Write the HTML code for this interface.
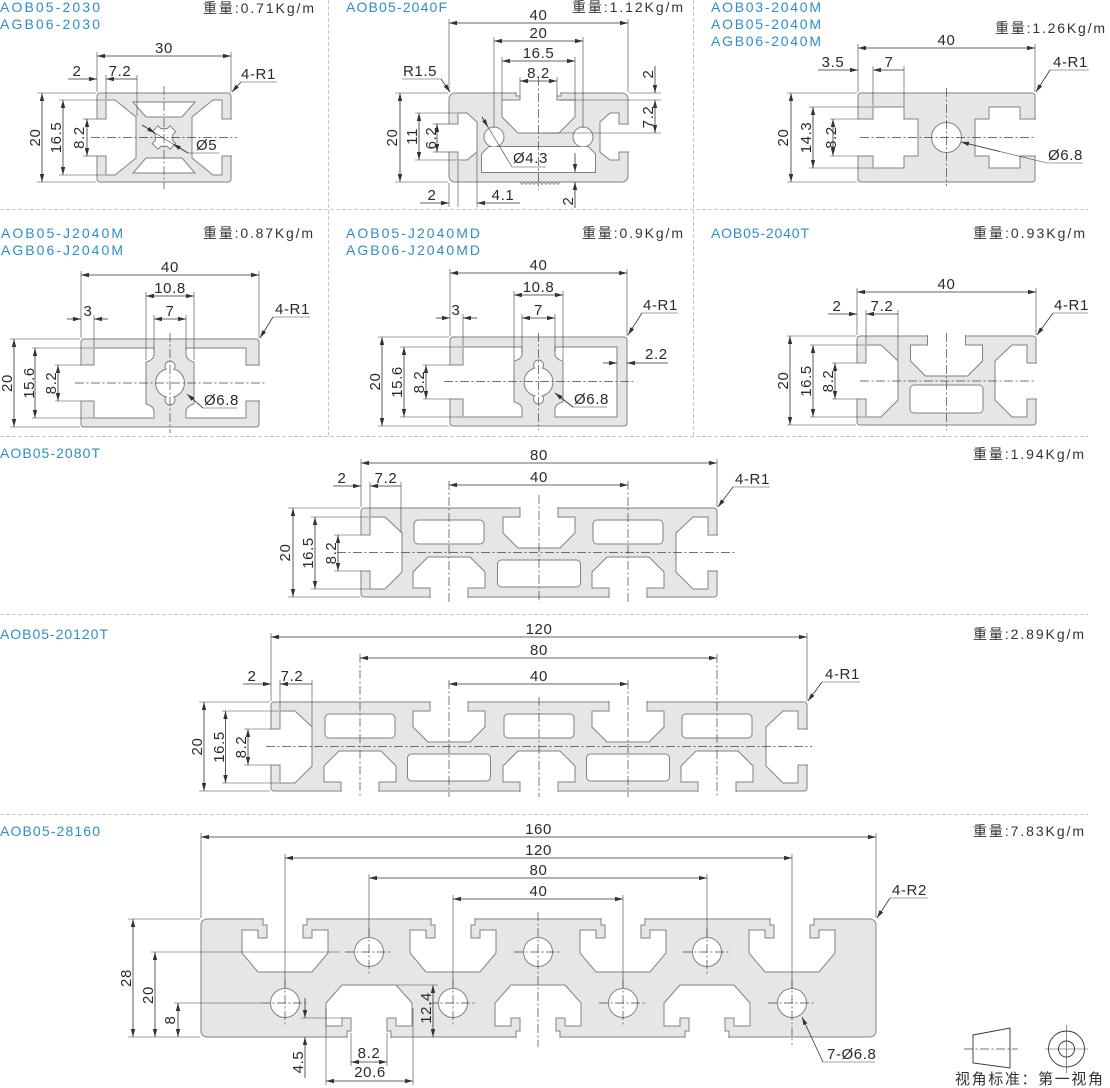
<!DOCTYPE html>
<html><head><meta charset="utf-8"><title>profiles</title>
<style>
html,body{margin:0;padding:0;background:#fff;width:1110px;height:1088px;overflow:hidden}
svg{display:block}
.p{fill:#e6e6e6;stroke:#828282;stroke-width:1}
.h{fill:#fff;stroke:#828282;stroke-width:1}
.h2{fill:#fff;stroke:#828282;stroke-width:2}
.f{fill:#fff;stroke:none}
.d{stroke:#333;stroke-width:.8;marker-start:url(#m);marker-end:url(#m)}
.a{stroke:#333;stroke-width:.8;marker-end:url(#m)}
.e{stroke:#444;stroke-width:.6;fill:none}
.k{stroke:#444;stroke-width:.7;stroke-dasharray:9 2.5 2 2.5;fill:none}
.s{stroke:#c6c6c6;stroke-width:1;stroke-dasharray:4 2;fill:none}
text{font-family:"Liberation Sans","Noto Sans CJK SC",sans-serif;font-size:15px;fill:#2a2a2a;letter-spacing:.6px}
.m{text-anchor:middle}
.b{fill:#2e8dcb;font-size:14px;letter-spacing:0}
.w{fill:#333;font-size:14px;letter-spacing:0;text-anchor:end}
</style></head><body>
<svg width="1110" height="1088" viewBox="0 0 1110 1088" xmlns="http://www.w3.org/2000/svg">
<defs>
<marker id="m" viewBox="0 0 8 4.4" refX="8" refY="2.2" markerWidth="8" markerHeight="4.4" markerUnits="userSpaceOnUse" orient="auto-start-reverse"><path d="M0,0L8,2.2L0,4.4z" fill="#333"/></marker>
<path id="ts" d="M-19,-1 L-19,9 L-36,9 L-36,25 L-21,40 L21,40 L36,25 L36,9 L19,9 L19,-1"/>
<path id="bs" d="M-19,90 L-19,80 L-36,80 L-36,64 L-21,49 L21,49 L36,64 L36,80 L19,80 L19,90"/>
<path id="le" d="M-1,27 L9,27 L9,9 L24,9 L41,25 L41,64 L24,81 L9,81 L9,63 L-1,63"/>
<path id="re" d="M1,27 L-9,27 L-9,9 L-24,9 L-41,25 L-41,64 L-24,81 L-9,81 L-9,63 L1,63"/>
<path id="t8" d="M-22,-1 L-22,6 L-18,6 L-18,19 L-27,19 L-27,11 L-43,11 L-43,34 L-27,53 L27,53 L43,34 L43,11 L27,11 L27,19 L18,19 L18,6 L22,6 L22,-1"/>
<path id="b8" d="M-22,119 L-22,112 L-18,112 L-18,99 L-27,99 L-27,107 L-43,107 L-43,84 L-27,66 L27,66 L43,84 L43,107 L27,107 L27,99 L18,99 L18,112 L22,112 L22,119"/>
</defs>

<!-- separators -->
<line class="s" x1="0" y1="209.5" x2="1088" y2="209.5"/>
<line class="s" x1="0" y1="436.5" x2="1088" y2="436.5"/>
<line class="s" x1="0" y1="614.5" x2="1088" y2="614.5"/>
<line class="s" x1="0" y1="814.5" x2="1088" y2="814.5"/>
<line class="s" x1="328.5" y1="0" x2="328.5" y2="436"/>
<line class="s" x1="693.5" y1="0" x2="693.5" y2="436"/>

<!-- labels -->
<text class="b" x="0" y="12" textLength="100" lengthAdjust="spacing">AOB05-2030</text>
<text class="b" x="0" y="29" textLength="100" lengthAdjust="spacing">AGB06-2030</text>
<text class="b" x="346" y="12" textLength="101" lengthAdjust="spacing">AOB05-2040F</text>
<text class="b" x="711" y="12" textLength="110" lengthAdjust="spacing">AOB03-2040M</text>
<text class="b" x="711" y="29" textLength="110" lengthAdjust="spacing">AOB05-2040M</text>
<text class="b" x="711" y="46" textLength="110" lengthAdjust="spacing">AGB06-2040M</text>
<text class="w" x="314" y="13" textLength="111" lengthAdjust="spacing">重量:0.71Kg/m</text>
<text class="w" x="683" y="12" textLength="111" lengthAdjust="spacing">重量:1.12Kg/m</text>
<text class="w" x="1105" y="33" textLength="110" lengthAdjust="spacing">重量:1.26Kg/m</text>
<text class="b" x="1" y="238" textLength="122" lengthAdjust="spacing">AOB05-J2040M</text>
<text class="b" x="1" y="255" textLength="122" lengthAdjust="spacing">AGB06-J2040M</text>
<text class="b" x="346" y="238" textLength="134" lengthAdjust="spacing">AOB05-J2040MD</text>
<text class="b" x="346" y="255" textLength="134" lengthAdjust="spacing">AGB06-J2040MD</text>
<text class="b" x="711" y="238" textLength="98" lengthAdjust="spacing">AOB05-2040T</text>
<text class="w" x="313" y="238" textLength="110" lengthAdjust="spacing">重量:0.87Kg/m</text>
<text class="w" x="683" y="238" textLength="101" lengthAdjust="spacing">重量:0.9Kg/m</text>
<text class="w" x="1085" y="238" textLength="112" lengthAdjust="spacing">重量:0.93Kg/m</text>
<text class="b" x="0" y="458" textLength="100" lengthAdjust="spacing">AOB05-2080T</text>
<text class="w" x="1084" y="459" textLength="111" lengthAdjust="spacing">重量:1.94Kg/m</text>
<text class="b" x="0" y="639" textLength="108" lengthAdjust="spacing">AOB05-20120T</text>
<text class="w" x="1084" y="639" textLength="111" lengthAdjust="spacing">重量:2.89Kg/m</text>
<text class="b" x="0" y="836" textLength="100" lengthAdjust="spacing">AOB05-28160</text>
<text class="w" x="1084" y="836" textLength="111" lengthAdjust="spacing">重量:7.83Kg/m</text>

<!-- ===== 2030 ===== -->
<rect class="p" x="97" y="93" width="134" height="89" rx="3"/>
<path class="h" d="M96,119 L106,119 L106,100 L115,100 L136,117 L136,158 L115,175 L106,175 L106,156 L96,156"/>
<path class="h" d="M232,119 L222,119 L222,100 L213,100 L192,117 L192,158 L213,175 L222,175 L222,156 L232,156"/>
<path class="h" d="M133,102 L195,102 L182,117 L146,117 Z"/>
<path class="h" d="M133,173 L195,173 L182,158 L146,158 Z"/>
<g class="h2"><circle cx="164" cy="137.5" r="8.5"/><g transform="rotate(45 164 137.5)"><rect x="160.5" y="125.5" width="7" height="24"/><rect x="152" y="134" width="24" height="7"/></g></g>
<g class="f"><circle cx="164" cy="137.5" r="8.5"/><g transform="rotate(45 164 137.5)"><rect x="160.5" y="125.5" width="7" height="24"/><rect x="152" y="134" width="24" height="7"/></g></g>
<line class="k" x1="91" y1="137.5" x2="237" y2="137.5"/>
<line class="k" x1="164" y1="86" x2="164" y2="189"/>
<line class="e" x1="97" y1="52" x2="97" y2="92"/>
<line class="e" x1="231" y1="52" x2="231" y2="92"/>
<line class="d" x1="97" y1="56" x2="231" y2="56"/>
<text class="m" x="164" y="53">30</text>
<line class="e" x1="106" y1="75" x2="106" y2="99"/>
<line class="e" x1="137" y1="75" x2="137" y2="116"/>
<line class="a" x1="68" y1="79" x2="97" y2="79"/>
<line class="a" x1="137" y1="79" x2="106" y2="79"/>
<text class="m" x="77" y="76">2</text>
<text class="m" x="120" y="76">7.2</text>
<line class="e" x1="241" y1="82" x2="277" y2="82"/>
<line class="a" x1="241" y1="82" x2="232" y2="92"/>
<text x="241" y="79">4-R1</text>
<line class="e" x1="37" y1="93" x2="96" y2="93"/>
<line class="e" x1="37" y1="182" x2="96" y2="182"/>
<line class="d" x1="42" y1="93" x2="42" y2="182"/>
<text class="m" transform="translate(40,137.5) rotate(-90)">20</text>
<line class="e" x1="59" y1="100" x2="105" y2="100"/>
<line class="e" x1="59" y1="175" x2="105" y2="175"/>
<line class="d" x1="63" y1="100" x2="63" y2="175"/>
<text class="m" transform="translate(61,137.5) rotate(-90)">16.5</text>
<line class="e" x1="83" y1="119" x2="96" y2="119"/>
<line class="e" x1="83" y1="156" x2="96" y2="156"/>
<line class="d" x1="87" y1="119" x2="87" y2="156"/>
<text class="m" transform="translate(84,137.5) rotate(-90)">8.2</text>
<line class="e" x1="142" y1="125" x2="188" y2="153"/>
<line class="a" x1="142" y1="125" x2="155" y2="133"/>
<line class="a" x1="188" y1="153" x2="173" y2="144"/>
<line class="e" x1="188" y1="153" x2="219" y2="153"/>
<text x="196" y="150">Ø5</text>

<!-- ===== 2040F ===== -->
<rect class="p" x="449" y="93" width="179" height="89" rx="6"/>
<polyline points="520,182 522,184.5 524,182 526,184.5 528,182 530,184.5 532,182 534,184.5 536,182 538,184.5 540,182 542,184.5 544,182 546,184.5 548,182 550,184.5 552,182 554,184.5 556,182 558,184.5 560,182" fill="none" stroke="#828282" stroke-width=".8"/>
<path class="h" d="M516,92 L516,96 L520,96 L520,100 L502,100 L502,117 L518,133 L559,133 L575,117 L575,100 L557,100 L557,96 L561,96 L561,92"/>
<path class="h" d="M448,124 L458,124 L458,113 L467,113 L477,122 L477,152 L467,160 L458,160 L458,152 L448,152"/>
<path class="h" d="M629,124 L619,124 L619,113 L610,113 L600,122 L600,152 L610,160 L619,160 L619,152 L629,152"/>
<g class="h2"><path d="M489,147 L588,147 L595,154 L595,172 L482,172 L482,154 Z"/><circle cx="494" cy="137" r="9.5"/><circle cx="583" cy="137" r="9.5"/></g>
<g class="f"><path d="M489,147 L588,147 L595,154 L595,172 L482,172 L482,154 Z"/><circle cx="494" cy="137" r="9.5"/><circle cx="583" cy="137" r="9.5"/></g>
<line class="k" x1="538.5" y1="77" x2="538.5" y2="190"/>
<line class="e" x1="449" y1="19" x2="449" y2="92"/>
<line class="e" x1="628" y1="19" x2="628" y2="92"/>
<line class="d" x1="449" y1="23" x2="628" y2="23"/>
<text class="m" x="538.5" y="20">40</text>
<line class="e" x1="494" y1="37" x2="494" y2="128"/>
<line class="e" x1="583" y1="37" x2="583" y2="128"/>
<line class="d" x1="494" y1="41" x2="583" y2="41"/>
<text class="m" x="538.5" y="38">20</text>
<line class="e" x1="502" y1="57" x2="502" y2="100"/>
<line class="e" x1="575" y1="57" x2="575" y2="100"/>
<line class="d" x1="502" y1="61" x2="575" y2="61"/>
<text class="m" x="538.5" y="58">16.5</text>
<line class="e" x1="520" y1="77" x2="520" y2="96"/>
<line class="e" x1="557" y1="77" x2="557" y2="96"/>
<line class="d" x1="520" y1="81" x2="557" y2="81"/>
<text class="m" x="538.5" y="78">8.2</text>
<text x="403" y="76">R1.5</text>
<line class="e" x1="402" y1="79" x2="441" y2="79"/>
<line class="a" x1="441" y1="79" x2="450" y2="92"/>
<line class="e" x1="629" y1="93" x2="661" y2="93"/>
<line class="e" x1="560" y1="100" x2="661" y2="100"/>
<line class="e" x1="543" y1="133" x2="661" y2="133"/>
<line class="a" x1="655" y1="66" x2="655" y2="93"/>
<line class="d" x1="655" y1="100" x2="655" y2="133"/>
<text class="m" transform="translate(653,74) rotate(-90)">2</text>
<text class="m" transform="translate(653,117) rotate(-90)">7.2</text>
<line class="e" x1="395" y1="93" x2="448" y2="93"/>
<line class="e" x1="395" y1="182" x2="448" y2="182"/>
<line class="d" x1="400" y1="93" x2="400" y2="182"/>
<text class="m" transform="translate(397,137.5) rotate(-90)">20</text>
<line class="e" x1="415" y1="113" x2="457" y2="113"/>
<line class="e" x1="415" y1="160" x2="457" y2="160"/>
<line class="d" x1="419" y1="113" x2="419" y2="160"/>
<text class="m" transform="translate(417,136.5) rotate(-90)">11</text>
<line class="e" x1="433" y1="124" x2="448" y2="124"/>
<line class="e" x1="433" y1="152" x2="448" y2="152"/>
<line class="d" x1="437" y1="124" x2="437" y2="152"/>
<text class="m" transform="translate(436,138) rotate(-90)">6.2</text>
<line class="e" x1="482" y1="117" x2="512" y2="167"/>
<line class="a" x1="482" y1="117" x2="488" y2="127"/>
<line class="e" x1="512" y1="167" x2="546" y2="167"/>
<text x="513" y="163">Ø4.3</text>
<line class="e" x1="449" y1="183" x2="449" y2="207"/>
<line class="e" x1="458" y1="161" x2="458" y2="207"/>
<line class="e" x1="477" y1="153" x2="477" y2="207"/>
<line class="a" x1="420" y1="203" x2="449" y2="203"/>
<line class="a" x1="520" y1="203" x2="477" y2="203"/>
<text class="m" x="432" y="200">2</text>
<text class="m" x="503" y="200">4.1</text>
<line class="a" x1="575" y1="153" x2="575" y2="172"/>
<line class="a" x1="575" y1="208" x2="575" y2="182"/>
<text class="m" transform="translate(573,201) rotate(-90)">2</text>

<!-- ===== 2040M ===== -->
<rect class="p" x="858" y="93" width="177" height="89" rx="3"/>
<path class="h" d="M857,119 L873,119 L873,107 L904,107 L904,119 L918,119 L918,156 L904,156 L904,168 L873,168 L873,156 L857,156"/>
<path class="h" d="M1036,119 L1020,119 L1020,107 L989,107 L989,119 L975,119 L975,156 L989,156 L989,168 L1020,168 L1020,156 L1036,156"/>
<circle class="h" cx="946.5" cy="137.5" r="15"/>
<line class="k" x1="860" y1="137.5" x2="1036" y2="137.5"/>
<line class="k" x1="946.5" y1="88" x2="946.5" y2="186"/>
<line class="e" x1="858" y1="44" x2="858" y2="92"/>
<line class="e" x1="1035" y1="44" x2="1035" y2="92"/>
<line class="d" x1="858" y1="48" x2="1035" y2="48"/>
<text class="m" x="946.5" y="45">40</text>
<line class="e" x1="873" y1="66" x2="873" y2="106"/>
<line class="e" x1="904" y1="66" x2="904" y2="106"/>
<line class="a" x1="818" y1="70" x2="858" y2="70"/>
<line class="a" x1="904" y1="70" x2="873" y2="70"/>
<text class="m" x="833" y="67">3.5</text>
<text class="m" x="889" y="67">7</text>
<line class="e" x1="1050" y1="70" x2="1089" y2="70"/>
<line class="a" x1="1050" y1="70" x2="1036" y2="92"/>
<text x="1053" y="67">4-R1</text>
<line class="e" x1="787" y1="93" x2="857" y2="93"/>
<line class="e" x1="787" y1="182" x2="857" y2="182"/>
<line class="d" x1="791" y1="93" x2="791" y2="182"/>
<text class="m" transform="translate(788,137.5) rotate(-90)">20</text>
<line class="e" x1="809" y1="107" x2="872" y2="107"/>
<line class="e" x1="809" y1="168" x2="872" y2="168"/>
<line class="d" x1="813" y1="107" x2="813" y2="168"/>
<text class="m" transform="translate(811,137.5) rotate(-90)">14.3</text>
<line class="e" x1="830" y1="119" x2="857" y2="119"/>
<line class="e" x1="830" y1="156" x2="857" y2="156"/>
<line class="d" x1="833" y1="119" x2="833" y2="156"/>
<text class="m" transform="translate(836,137.5) rotate(-90)">8.2</text>
<line class="e" x1="961" y1="142" x2="1047" y2="163"/>
<line class="a" x1="1000" y1="151.5" x2="961" y2="142"/>
<line class="e" x1="1047" y1="163" x2="1083" y2="163"/>
<text x="1048" y="160">Ø6.8</text>

<!-- ===== J2040M ===== -->
<rect class="p" x="81" y="339" width="178" height="88" rx="3"/>
<path class="h" d="M80,365 L94,365 L94,348 L154,348 L154,354 Q154,360 146,362 L146,404 Q154,406 154,412 L154,418 L94,418 L94,401 L80,401"/>
<path class="h" d="M260,365 L246,365 L246,348 L186,348 L186,354 Q186,360 194,362 L194,404 Q186,406 186,412 L186,418 L246,418 L246,401 L260,401"/>
<g class="h2"><circle cx="170" cy="383" r="14"/><circle cx="170" cy="366" r="4.5"/><circle cx="170" cy="400" r="4.5"/></g>
<g class="f"><circle cx="170" cy="383" r="14"/><circle cx="170" cy="366" r="4.5"/><circle cx="170" cy="400" r="4.5"/></g>
<line class="k" x1="75" y1="383" x2="265" y2="383"/>
<line class="k" x1="170" y1="333" x2="170" y2="433"/>
<line class="e" x1="81" y1="271" x2="81" y2="338"/>
<line class="e" x1="259" y1="271" x2="259" y2="338"/>
<line class="d" x1="81" y1="275" x2="259" y2="275"/>
<text class="m" x="170" y="272">40</text>
<line class="e" x1="146" y1="292" x2="146" y2="360"/>
<line class="e" x1="194" y1="292" x2="194" y2="360"/>
<line class="d" x1="146" y1="296" x2="194" y2="296"/>
<text class="m" x="170" y="293">10.8</text>
<line class="e" x1="154" y1="315" x2="154" y2="350"/>
<line class="e" x1="186" y1="315" x2="186" y2="350"/>
<line class="d" x1="154" y1="319" x2="186" y2="319"/>
<text class="m" x="170" y="316">7</text>
<line class="e" x1="94" y1="315" x2="94" y2="347"/>
<line class="a" x1="67" y1="319" x2="81" y2="319"/>
<line class="a" x1="108" y1="319" x2="94" y2="319"/>
<text class="m" x="88" y="316">3</text>
<line class="e" x1="273" y1="317" x2="310" y2="317"/>
<line class="a" x1="273" y1="317" x2="260" y2="338"/>
<text x="275" y="314">4-R1</text>
<line class="e" x1="10" y1="339" x2="80" y2="339"/>
<line class="e" x1="10" y1="427" x2="80" y2="427"/>
<line class="d" x1="14" y1="339" x2="14" y2="427"/>
<text class="m" transform="translate(12,383) rotate(-90)">20</text>
<line class="e" x1="32" y1="348" x2="93" y2="348"/>
<line class="e" x1="32" y1="418" x2="93" y2="418"/>
<line class="d" x1="35" y1="348" x2="35" y2="418"/>
<text class="m" transform="translate(34,383) rotate(-90)">15.6</text>
<line class="e" x1="55" y1="365" x2="80" y2="365"/>
<line class="e" x1="55" y1="401" x2="80" y2="401"/>
<line class="d" x1="58" y1="365" x2="58" y2="401"/>
<text class="m" transform="translate(56,383) rotate(-90)">8.2</text>
<line class="e" x1="188" y1="395" x2="203" y2="408"/>
<line class="a" x1="203" y1="408" x2="187" y2="394"/>
<line class="e" x1="203" y1="408" x2="237" y2="408"/>
<text x="204" y="405">Ø6.8</text>

<!-- ===== J2040MD ===== -->
<rect class="p" x="450" y="337" width="177" height="89" rx="3"/>
<path class="h" d="M449,365 L463,365 L463,347 L522,347 L522,354 Q522,359 514,361 L514,402 Q522,404 522,409 L522,417 L463,417 L463,399 L449,399"/>
<path class="h" d="M617,347 L555,347 L555,354 Q555,359 563,361 L563,402 Q555,404 555,409 L555,417 L617,417 Z"/>
<g class="h2"><circle cx="538.5" cy="382" r="14"/><circle cx="538.5" cy="365" r="4.5"/><circle cx="538.5" cy="399" r="4.5"/></g>
<g class="f"><circle cx="538.5" cy="382" r="14"/><circle cx="538.5" cy="365" r="4.5"/><circle cx="538.5" cy="399" r="4.5"/></g>
<line class="k" x1="444" y1="381.5" x2="633" y2="381.5"/>
<line class="k" x1="538.5" y1="333" x2="538.5" y2="430"/>
<line class="e" x1="450" y1="269" x2="450" y2="336"/>
<line class="e" x1="627" y1="269" x2="627" y2="336"/>
<line class="d" x1="450" y1="273" x2="627" y2="273"/>
<text class="m" x="538.5" y="270">40</text>
<line class="e" x1="514" y1="291" x2="514" y2="360"/>
<line class="e" x1="563" y1="291" x2="563" y2="360"/>
<line class="d" x1="514" y1="295" x2="563" y2="295"/>
<text class="m" x="538.5" y="292">10.8</text>
<line class="e" x1="522" y1="314" x2="522" y2="352"/>
<line class="e" x1="555" y1="314" x2="555" y2="352"/>
<line class="d" x1="522" y1="318" x2="555" y2="318"/>
<text class="m" x="538.5" y="315">7</text>
<line class="e" x1="463" y1="314" x2="463" y2="346"/>
<line class="a" x1="436" y1="318" x2="450" y2="318"/>
<line class="a" x1="477" y1="318" x2="463" y2="318"/>
<text class="m" x="456" y="315">3</text>
<line class="e" x1="642" y1="313" x2="678" y2="313"/>
<line class="a" x1="642" y1="313" x2="628" y2="335"/>
<text x="643" y="310">4-R1</text>
<line class="a" x1="603" y1="363" x2="617" y2="363"/>
<line class="a" x1="668" y1="363" x2="627" y2="363"/>
<text x="645" y="359">2.2</text>
<line class="e" x1="378" y1="337" x2="449" y2="337"/>
<line class="e" x1="378" y1="426" x2="449" y2="426"/>
<line class="d" x1="382" y1="337" x2="382" y2="426"/>
<text class="m" transform="translate(380,381.5) rotate(-90)">20</text>
<line class="e" x1="400" y1="347" x2="462" y2="347"/>
<line class="e" x1="400" y1="417" x2="462" y2="417"/>
<line class="d" x1="404" y1="347" x2="404" y2="417"/>
<text class="m" transform="translate(402,382) rotate(-90)">15.6</text>
<line class="e" x1="423" y1="365" x2="449" y2="365"/>
<line class="e" x1="423" y1="399" x2="449" y2="399"/>
<line class="d" x1="426" y1="365" x2="426" y2="399"/>
<text class="m" transform="translate(424,382) rotate(-90)">8.2</text>
<line class="e" x1="556" y1="394" x2="573" y2="407"/>
<line class="a" x1="573" y1="407" x2="555" y2="393"/>
<line class="e" x1="573" y1="407" x2="607" y2="407"/>
<text x="574" y="404">Ø6.8</text>

<!-- ===== 2040T ===== -->
<rect class="p" x="857" y="336" width="179" height="89" rx="3"/>
<use href="#le" class="h" x="857" y="336"/>
<use href="#re" class="h" x="1036" y="336"/>
<use href="#ts" class="h" x="946.5" y="336"/>
<rect class="h" x="910" y="385" width="73" height="28" rx="4"/>
<line class="k" x1="860" y1="381" x2="1036" y2="381"/>
<line class="k" x1="946.5" y1="333" x2="946.5" y2="430"/>
<line class="e" x1="857" y1="288" x2="857" y2="335"/>
<line class="e" x1="1036" y1="288" x2="1036" y2="335"/>
<line class="d" x1="857" y1="292" x2="1036" y2="292"/>
<text class="m" x="946.5" y="289">40</text>
<line class="e" x1="866" y1="310" x2="866" y2="344"/>
<line class="e" x1="898" y1="310" x2="898" y2="360"/>
<line class="a" x1="828" y1="314" x2="857" y2="314"/>
<line class="a" x1="898" y1="314" x2="866" y2="314"/>
<text class="m" x="837" y="311">2</text>
<text class="m" x="882" y="311">7.2</text>
<line class="e" x1="1053" y1="313" x2="1088" y2="313"/>
<line class="a" x1="1053" y1="313" x2="1037" y2="335"/>
<text x="1054" y="310">4-R1</text>
<line class="e" x1="787" y1="336" x2="856" y2="336"/>
<line class="e" x1="787" y1="425" x2="856" y2="425"/>
<line class="d" x1="790" y1="336" x2="790" y2="425"/>
<text class="m" transform="translate(788,380.5) rotate(-90)">20</text>
<line class="e" x1="810" y1="345" x2="865" y2="345"/>
<line class="e" x1="810" y1="417" x2="865" y2="417"/>
<line class="d" x1="813" y1="345" x2="813" y2="417"/>
<text class="m" transform="translate(811,381) rotate(-90)">16.5</text>
<line class="e" x1="832" y1="363" x2="856" y2="363"/>
<line class="e" x1="832" y1="399" x2="856" y2="399"/>
<line class="d" x1="835" y1="363" x2="835" y2="399"/>
<text class="m" transform="translate(833,381) rotate(-90)">8.2</text>

<!-- ===== 2080T ===== -->
<rect class="p" x="361" y="508" width="356" height="89" rx="3"/>
<use href="#le" class="h" x="361" y="508"/>
<use href="#re" class="h" x="717" y="508"/>
<rect class="h" x="414" y="520" width="70" height="24" rx="4"/>
<use href="#bs" class="h" x="449" y="508"/>
<use href="#ts" class="h" x="539" y="508"/>
<rect class="h" x="497.5" y="560" width="83" height="27" rx="4"/>
<rect class="h" x="593" y="520" width="70" height="24" rx="4"/>
<use href="#bs" class="h" x="628" y="508"/>
<line class="k" x1="337" y1="552.5" x2="737" y2="552.5"/>
<line class="k" x1="449" y1="481" x2="449" y2="603"/>
<line class="k" x1="628" y1="481" x2="628" y2="603"/>
<line class="k" x1="539" y1="495" x2="539" y2="603"/>
<line class="e" x1="361" y1="459" x2="361" y2="507"/>
<line class="e" x1="717" y1="459" x2="717" y2="507"/>
<line class="d" x1="361" y1="463" x2="717" y2="463"/>
<text class="m" x="539" y="460">80</text>
<line class="d" x1="449" y1="485" x2="628" y2="485"/>
<text class="m" x="539" y="482">40</text>
<line class="e" x1="370" y1="482" x2="370" y2="516"/>
<line class="e" x1="401" y1="482" x2="401" y2="532"/>
<line class="a" x1="333" y1="486" x2="361" y2="486"/>
<line class="a" x1="401" y1="486" x2="370" y2="486"/>
<text class="m" x="342" y="483">2</text>
<text class="m" x="386" y="483">7.2</text>
<line class="e" x1="733" y1="487" x2="770" y2="487"/>
<line class="a" x1="733" y1="487" x2="718" y2="507"/>
<text x="735" y="484">4-R1</text>
<line class="e" x1="288" y1="508" x2="360" y2="508"/>
<line class="e" x1="288" y1="597" x2="360" y2="597"/>
<line class="d" x1="293" y1="508" x2="293" y2="597"/>
<text class="m" transform="translate(290,552.5) rotate(-90)">20</text>
<line class="e" x1="311" y1="517" x2="369" y2="517"/>
<line class="e" x1="311" y1="589" x2="369" y2="589"/>
<line class="d" x1="315" y1="517" x2="315" y2="589"/>
<text class="m" transform="translate(313,553) rotate(-90)">16.5</text>
<line class="e" x1="334" y1="535" x2="360" y2="535"/>
<line class="e" x1="334" y1="571" x2="360" y2="571"/>
<line class="d" x1="338" y1="535" x2="338" y2="571"/>
<text class="m" transform="translate(336,553) rotate(-90)">8.2</text>

<!-- ===== 20120T ===== -->
<rect class="p" x="271" y="702" width="536" height="89" rx="3"/>
<use href="#le" class="h" x="271" y="702"/>
<use href="#re" class="h" x="807" y="702"/>
<rect class="h" x="325" y="714" width="70" height="24" rx="4"/>
<rect class="h" x="504" y="714" width="70" height="24" rx="4"/>
<rect class="h" x="682" y="714" width="70" height="24" rx="4"/>
<use href="#bs" class="h" x="360" y="702"/>
<use href="#bs" class="h" x="539" y="702"/>
<use href="#bs" class="h" x="717" y="702"/>
<use href="#ts" class="h" x="449" y="702"/>
<use href="#ts" class="h" x="628" y="702"/>
<rect class="h" x="407.5" y="754" width="83" height="27" rx="4"/>
<rect class="h" x="586.5" y="754" width="83" height="27" rx="4"/>
<line class="k" x1="266" y1="746.5" x2="812" y2="746.5"/>
<line class="k" x1="360" y1="654" x2="360" y2="797"/>
<line class="k" x1="717" y1="654" x2="717" y2="797"/>
<line class="k" x1="449" y1="680" x2="449" y2="797"/>
<line class="k" x1="628" y1="680" x2="628" y2="797"/>
<line class="k" x1="539" y1="697" x2="539" y2="797"/>
<line class="e" x1="271" y1="633" x2="271" y2="701"/>
<line class="e" x1="807" y1="633" x2="807" y2="701"/>
<line class="d" x1="271" y1="637" x2="807" y2="637"/>
<text class="m" x="539" y="634">120</text>
<line class="d" x1="360" y1="658" x2="717" y2="658"/>
<text class="m" x="539" y="655">80</text>
<line class="d" x1="449" y1="684" x2="628" y2="684"/>
<text class="m" x="539" y="681">40</text>
<line class="e" x1="280" y1="680" x2="280" y2="710"/>
<line class="e" x1="312" y1="680" x2="312" y2="726"/>
<line class="a" x1="243" y1="684" x2="271" y2="684"/>
<line class="a" x1="312" y1="684" x2="280" y2="684"/>
<text class="m" x="252" y="681">2</text>
<text class="m" x="292" y="681">7.2</text>
<line class="e" x1="822" y1="682" x2="860" y2="682"/>
<line class="a" x1="822" y1="682" x2="808" y2="701"/>
<text x="825" y="679">4-R1</text>
<line class="e" x1="199" y1="702" x2="270" y2="702"/>
<line class="e" x1="199" y1="791" x2="270" y2="791"/>
<line class="d" x1="204" y1="702" x2="204" y2="791"/>
<text class="m" transform="translate(202,746.5) rotate(-90)">20</text>
<line class="e" x1="222" y1="711" x2="279" y2="711"/>
<line class="e" x1="222" y1="783" x2="279" y2="783"/>
<line class="d" x1="225.5" y1="711" x2="225.5" y2="783"/>
<text class="m" transform="translate(224,747) rotate(-90)">16.5</text>
<line class="e" x1="244" y1="729" x2="270" y2="729"/>
<line class="e" x1="244" y1="765" x2="270" y2="765"/>
<line class="d" x1="248" y1="729" x2="248" y2="765"/>
<text class="m" transform="translate(246,747) rotate(-90)">8.2</text>

<!-- ===== 28160 ===== -->
<rect class="p" x="201" y="919" width="675" height="118" rx="6"/>
<use href="#t8" class="h" x="285" y="919"/>
<use href="#t8" class="h" x="453" y="919"/>
<use href="#t8" class="h" x="623" y="919"/>
<use href="#t8" class="h" x="792" y="919"/>
<use href="#b8" class="h" x="369" y="919"/>
<use href="#b8" class="h" x="538" y="919"/>
<use href="#b8" class="h" x="707" y="919"/>
<circle class="h" cx="369" cy="952" r="14.5"/>
<circle class="h" cx="538" cy="952" r="14.5"/>
<circle class="h" cx="707" cy="952" r="14.5"/>
<circle class="h" cx="285" cy="1003" r="14.5"/>
<circle class="h" cx="453" cy="1003" r="14.5"/>
<circle class="h" cx="623" cy="1003" r="14.5"/>
<circle class="h" cx="792" cy="1003" r="14.5"/>
<g class="k">
<line x1="345" y1="952" x2="393" y2="952"/><line x1="369" y1="928" x2="369" y2="976"/>
<line x1="514" y1="952" x2="562" y2="952"/><line x1="538" y1="912" x2="538" y2="1047"/>
<line x1="683" y1="952" x2="731" y2="952"/><line x1="707" y1="928" x2="707" y2="976"/>
<line x1="261" y1="1003" x2="309" y2="1003"/><line x1="285" y1="979" x2="285" y2="1027"/>
<line x1="429" y1="1003" x2="477" y2="1003"/><line x1="453" y1="979" x2="453" y2="1027"/>
<line x1="599" y1="1003" x2="647" y2="1003"/><line x1="623" y1="979" x2="623" y2="1027"/>
<line x1="768" y1="1003" x2="816" y2="1003"/><line x1="792" y1="979" x2="792" y2="1045"/>
</g>
<line class="e" x1="201" y1="833" x2="201" y2="918"/>
<line class="e" x1="876" y1="833" x2="876" y2="918"/>
<line class="d" x1="201" y1="837" x2="876" y2="837"/>
<text class="m" x="538.5" y="834">160</text>
<line class="e" x1="285" y1="854" x2="285" y2="988"/>
<line class="e" x1="792" y1="854" x2="792" y2="988"/>
<line class="d" x1="285" y1="858" x2="792" y2="858"/>
<text class="m" x="538.5" y="855">120</text>
<line class="e" x1="369" y1="874" x2="369" y2="937"/>
<line class="e" x1="707" y1="874" x2="707" y2="937"/>
<line class="d" x1="369" y1="878" x2="707" y2="878"/>
<text class="m" x="538.5" y="875">80</text>
<line class="e" x1="453" y1="895" x2="453" y2="988"/>
<line class="e" x1="623" y1="895" x2="623" y2="988"/>
<line class="d" x1="453" y1="899" x2="623" y2="899"/>
<text class="m" x="538.5" y="896">40</text>
<line class="e" x1="890" y1="898" x2="928" y2="898"/>
<line class="a" x1="890" y1="898" x2="877" y2="918"/>
<text x="892" y="895">4-R2</text>
<line class="e" x1="823" y1="1062" x2="875" y2="1062"/>
<line class="a" x1="823" y1="1062" x2="802" y2="1017"/>
<text x="827" y="1059">7-Ø6.8</text>
<line class="e" x1="128" y1="919" x2="200" y2="919"/>
<line class="e" x1="128" y1="1037" x2="200" y2="1037"/>
<line class="d" x1="133" y1="919" x2="133" y2="1037"/>
<text class="m" transform="translate(131,978) rotate(-90)">28</text>
<line class="e" x1="151" y1="952" x2="340" y2="952"/>
<line class="d" x1="155" y1="952" x2="155" y2="1037"/>
<text class="m" transform="translate(153,995) rotate(-90)">20</text>
<line class="e" x1="174" y1="1003" x2="261" y2="1003"/>
<line class="d" x1="178" y1="1003" x2="178" y2="1037"/>
<text class="m" transform="translate(175,1020) rotate(-90)">8</text>
<line class="e" x1="301" y1="1018" x2="342" y2="1018"/>
<line class="a" x1="305" y1="998" x2="305" y2="1018"/>
<line class="a" x1="305" y1="1078" x2="305" y2="1037"/>
<text class="m" transform="translate(303,1062) rotate(-90)">4.5</text>
<line class="e" x1="351" y1="1033" x2="351" y2="1066"/>
<line class="e" x1="387" y1="1033" x2="387" y2="1066"/>
<line class="d" x1="351" y1="1062" x2="387" y2="1062"/>
<text class="m" x="369" y="1058">8.2</text>
<line class="e" x1="326" y1="1008" x2="326" y2="1085"/>
<line class="e" x1="413" y1="1008" x2="413" y2="1085"/>
<line class="d" x1="326" y1="1081" x2="413" y2="1081"/>
<text class="m" x="370" y="1077">20.6</text>
<line class="e" x1="396" y1="985" x2="438" y2="985"/>
<line class="d" x1="433" y1="985" x2="433" y2="1037"/>
<text class="m" transform="translate(431,1008) rotate(-90)">12.4</text>

<!-- legend -->
<polygon points="973,1035 1010,1028 1010,1068 973,1063" fill="none" stroke="#333" stroke-width=".9"/>
<line class="k" x1="964" y1="1049" x2="1018" y2="1049"/>
<circle cx="1066.5" cy="1049" r="18" fill="none" stroke="#333" stroke-width=".9"/>
<circle cx="1066.5" cy="1049" r="8" fill="none" stroke="#333" stroke-width=".9"/>
<line class="e" x1="1066.5" y1="1025" x2="1066.5" y2="1073"/>
<line class="e" x1="1045" y1="1049" x2="1088" y2="1049"/>
<text x="955" y="1084" textLength="148" lengthAdjust="spacing" style="font-size:15px;fill:#333;letter-spacing:0">视角标准：第一视角</text>
</svg>
</body></html>
